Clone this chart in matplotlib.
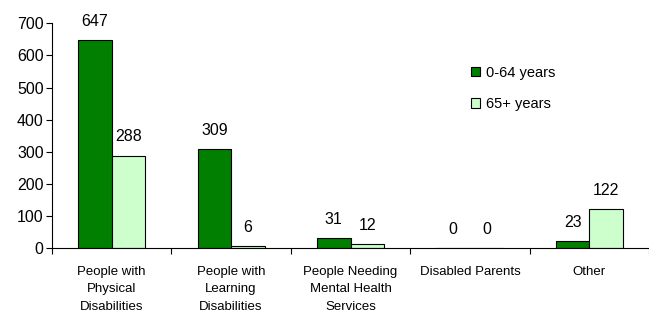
import numpy as np
import matplotlib.pyplot as plt

plt.rcParams['font.family'] = ['Liberation Sans', 'DejaVu Sans']

categories = ["People with\nPhysical\nDisabilities", "People with\nLearning\nDisabilities",
              "People Needing\nMental Health\nServices", "Disabled Parents", "Other"]
under_65 = [647, 309, 31, 0, 23]
over_65 = [288, 6, 12, 0, 122]

fig = plt.figure(figsize=(6.49, 3.13), dpi=100)
ax = fig.add_axes([52 / 649, 1 - 248 / 313, 1 - 52 / 649, (248 - 23.3) / 313])

x = np.arange(len(categories))
w = 0.28
b1 = ax.bar(x - w / 2, under_65, w, color='#007F00', edgecolor='black', linewidth=0.8, label='0-64 years')
b2 = ax.bar(x + w / 2, over_65, w, color='#CCFFCC', edgecolor='black', linewidth=0.8, label='65+ years')

for bars in (b1, b2):
    for r in bars:
        ax.annotate(str(int(r.get_height())), (r.get_x() + r.get_width() / 2, r.get_height()),
                    xytext=(0, 8), textcoords='offset points',
                    ha='center', va='bottom', fontsize=11.5)

ax.set_ylim(0, 700)
ax.set_yticks(range(0, 701, 100))
ax.set_xlim(-0.5, 4.5 - 9 / 121.5)
ax.set_xticks(np.arange(-0.5, 4.6, 1), minor=False)
ax.set_xticklabels([])
ax.set_xticks(x, minor=True)
ax.set_xticklabels(categories, minor=True, fontsize=9.5, linespacing=1.6)
ax.tick_params(axis='x', which='minor', length=0, pad=13)
ax.tick_params(axis='x', which='major', length=4, direction='out')
ax.tick_params(axis='y', labelsize=11.5, length=4, pad=2)
ax.spines['top'].set_visible(False)
ax.spines['right'].set_visible(False)

ax.legend(loc='upper left', bbox_to_anchor=(0.68, 0.87),
          frameon=False, fontsize=10.5, handlelength=0.6, handleheight=0.6, labelspacing=1.2,
          handletextpad=0.4)

fig.savefig('out.png', dpi=100)
